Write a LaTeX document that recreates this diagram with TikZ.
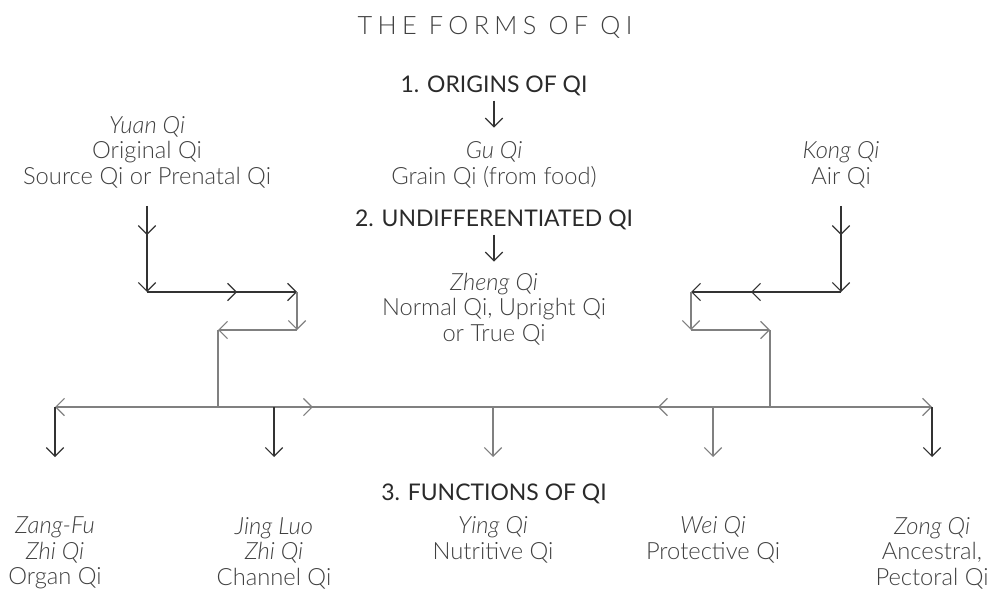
\documentclass[tikz,border=0pt]{standalone}
\usepackage{fontspec}
\setmainfont{Lato}[UprightFont=* Light, ItalicFont=* Light Italic, BoldFont=*]
\usetikzlibrary{arrows.meta, positioning, decorations.markings}
\definecolor{inkdark}{HTML}{2A2A2A}
\definecolor{inklight}{HTML}{404040}
\definecolor{linedark}{HTML}{333333}
\definecolor{linegray}{HTML}{808080}

\begin{document}
\begin{tikzpicture}[x=0.75pt, y=-0.75pt,
  >={Straight Barb[length=6.5pt, width=13pt]},
  every path/.style={line width=0.9pt},
  body/.style={align=center, inner sep=0pt, text=inklight, font=\fontsize{17.8}{19.2}\selectfont},
  heading/.style={align=center, inner sep=0pt, text=inkdark, font=\fontsize{17.2}{19.2}\selectfont\bfseries},
  midtip/.style={postaction={decorate}, decoration={markings, mark=at position #1 with {\arrow{>}}}},
  dark/.style={draw=linedark},
  grey/.style={draw=linegray}]
  \useasboundingbox (0,0) rectangle (991,595);

  % Title and headings
  \node[inner sep=0pt, text=inklight, font=\fontsize{19}{22}\selectfont\addfontfeatures{LetterSpace=21}] (title) at (495,27) {THE FORMS OF QI};
  \node[heading] (orig) at (494,86) {1. ORIGINS OF QI};
  \node[heading] (undiff) at (494,220) {2. UNDIFFERENTIATED QI};
  \node[heading] (func) at (494,494) {3. FUNCTIONS OF QI};

  % Origins
  \node[body] (yuan) at (147,152) {\textit{Yuan Qi}\\Original Qi\\Source Qi or Prenatal Qi};
  \node[body] (guqi) at (494,165) {\textit{Gu Qi}\\Grain Qi (from food)};
  \node[body] (kong) at (841,165) {\textit{Kong Qi}\\Air Qi};
  \node[body] (zheng) at (494,309) {\textit{Zheng Qi}\\Normal Qi, Upright Qi\\or True Qi};

  % Functions
  \node[body] (zangfu) at (55,553) {\textit{Zang-Fu}\\\textit{Zhi Qi}\\Organ Qi};
  \node[body] (jingluo) at (274,553) {\textit{Jing Luo}\\\textit{Zhi Qi}\\Channel Qi};
  \node[body] (ying) at (493,540) {\textit{Ying Qi}\\Nutritive Qi};
  \node[body] (wei) at (713,540) {\textit{Wei Qi}\\Protective Qi};
  \node[body] (zong) at (932,553) {\textit{Zong Qi}\\Ancestral,\\Pectoral Qi};

  % Corners of the two feeds
  \coordinate (yl1) at (147,292);
  \coordinate (yl2) at (297,292);
  \coordinate (yl3) at (297,330);
  \coordinate (yl4) at (218,330);
  \coordinate (yl5) at (218,407);
  \coordinate (kr1) at (841,292);
  \coordinate (kr2) at (691,292);
  \coordinate (kr3) at (691,330);
  \coordinate (kr4) at (770,330);
  \coordinate (kr5) at (770,407);
  \coordinate (hl) at (55,407);
  \coordinate (hr) at (932,407);

  % Centre arrows
  \draw[->, dark, shorten <=3pt] (orig.south) -- ++(0,31);
  \draw[->, dark, shorten <=3pt] (undiff.south) -- ++(0,31);

  % Left feed
  \draw[->, dark, midtip=0.45, shorten <=13pt] (yuan.south) -- (yl1);
  \draw[->, dark, midtip=0.6] (yl1) -- (yl2);
  \draw[->, grey] (yl2) -- (yl3);
  \draw[->, grey] (yl3) -- (yl4);
  \draw[grey] (yl4) -- (yl5);

  % Right feed
  \draw[->, dark, midtip=0.45, shorten <=13pt] (kong.south |- yuan.south) -- (kr1);
  \draw[->, dark, midtip=0.6] (kr1) -- (kr2);
  \draw[->, grey] (kr2) -- (kr3);
  \draw[->, grey] (kr3) -- (kr4);
  \draw[grey] (kr4) -- (kr5);

  % Main line
  \draw[->, grey] (yl5) -- (hl);
  \draw[grey, midtip=0.172] (yl5) -- (kr5);
  \draw[grey, midtip=0.203] (kr5) -- (yl5);
  \draw[->, grey] (kr5) -- (hr);

  % Down to the functions
  \draw[->, dark] (hl) -- ++(0,50);
  \draw[->, dark] (jingluo.north |- hl) -- ++(0,50);
  \draw[->, grey] (ying.north |- hl) -- ++(0,50);
  \draw[->, grey] (wei.north |- hl) -- ++(0,50);
  \draw[->, dark] (hr) -- ++(0,50);
\end{tikzpicture}
\end{document}
